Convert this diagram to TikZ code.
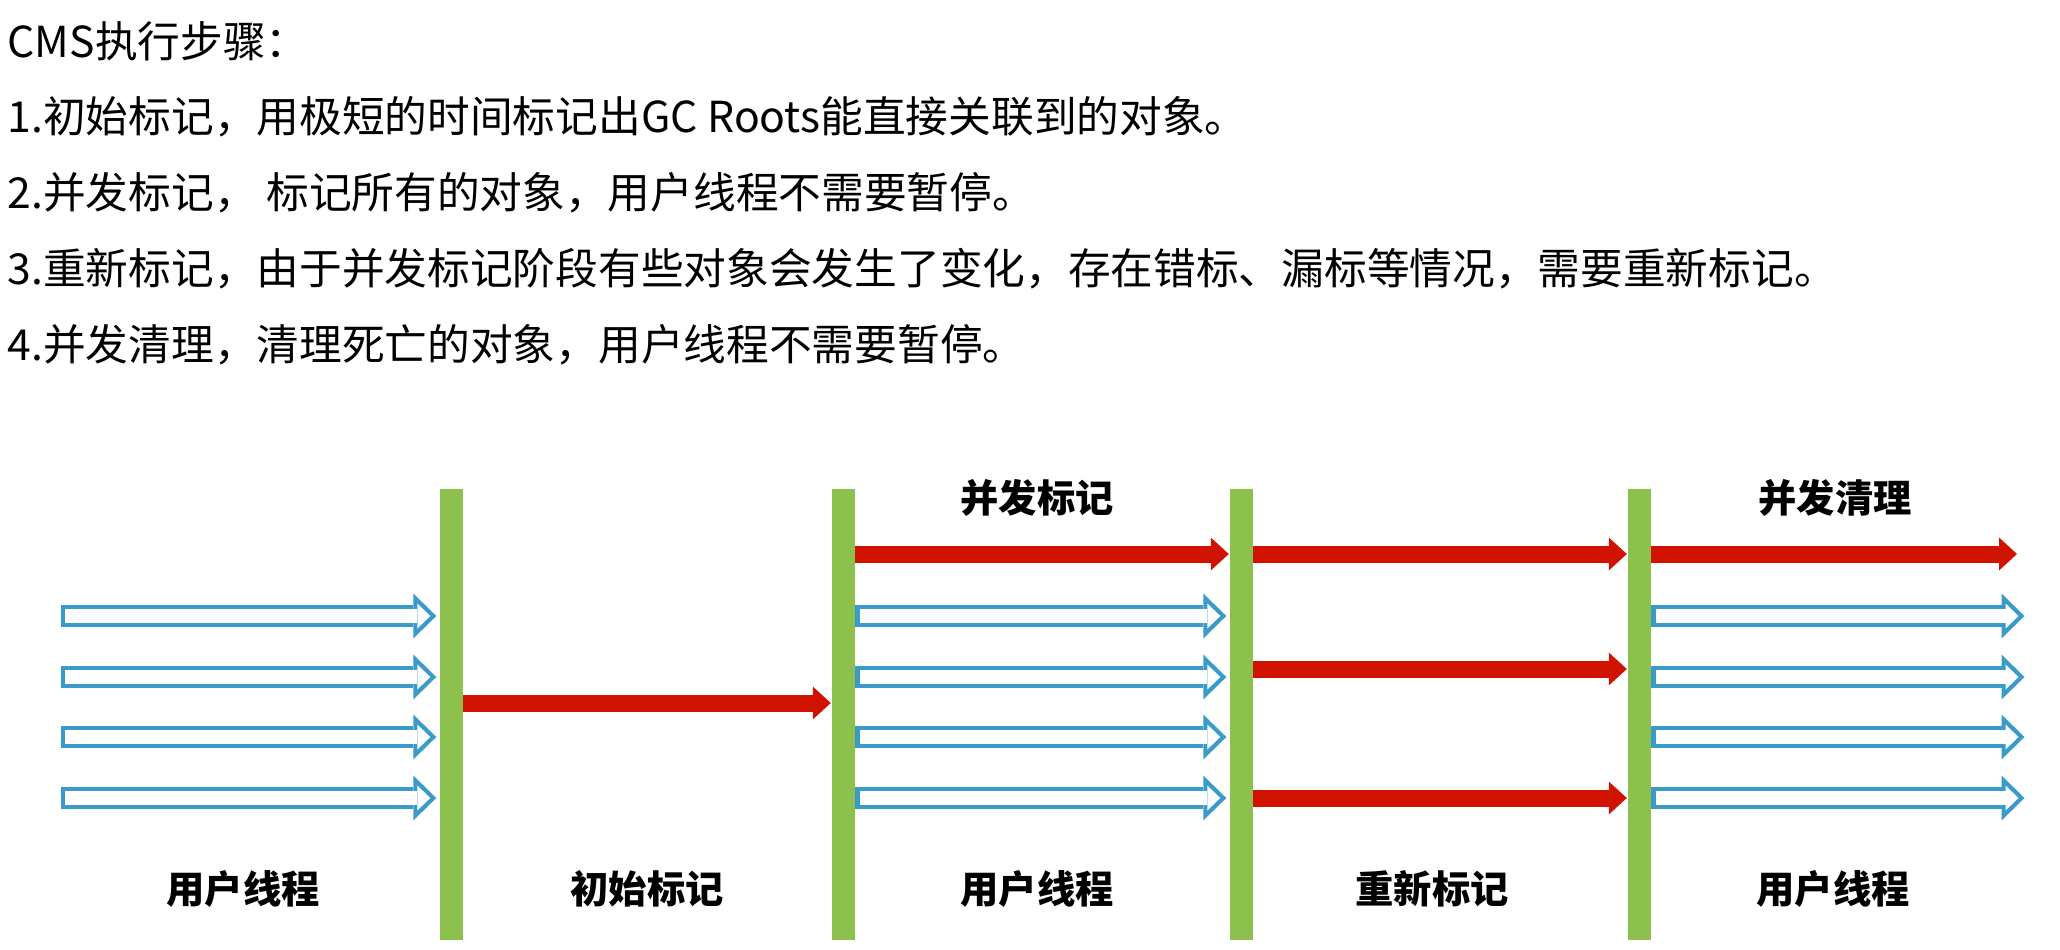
\documentclass[tikz,border=0pt]{standalone}
\usepackage{fontspec}
\setmainfont{Noto Sans CJK SC}
\usetikzlibrary{arrows.meta,positioning,calc}
\definecolor{barg}{RGB}{141,193,78}
\definecolor{threadblue}{RGB}{58,155,202}
\definecolor{flowred}{RGB}{208,18,0}
\tikzset{
  phasebar/.style={fill=barg, minimum width=0.23cm, minimum height=4.51cm, inner sep=0pt},
  thread/.style={white, line width=1.35mm, shorten <=0.43mm, shorten >=0.85mm,
    -{Triangle[length=1.3mm, width=2.5mm, line width=0pt]},
    preaction={draw=threadblue, line width=2.2mm, shorten <=0pt, shorten >=0.25mm,
      -{Triangle[length=2.3mm, width=4.5mm, line width=0pt]}}},
  gcflow/.style={draw=flowred, line width=1.7mm, -{Triangle[length=1.8mm, width=3.3mm, line width=0pt]}},
  steptext/.style={anchor=west, inner sep=0pt, font=\fontsize{12.15pt}{14pt}\selectfont},
  phaselabel/.style={inner sep=0pt, font=\fontsize{10.9pt}{12pt}\selectfont\bfseries},
}

\begin{document}
\begin{tikzpicture}
  \useasboundingbox (0,0) rectangle (20.60,-9.49);
  % the steps
  \node[steptext] (title) at (0.07,-0.41) {CMS执行步骤：};
  \node[steptext] (st1) at (0.07,-1.17) {1.初始标记，用极短的时间标记出GC Roots能直接关联到的对象。};
  \node[steptext] (st2) at (0.07,-1.93) {2.并发标记， 标记所有的对象，用户线程不需要暂停。};
  \node[steptext] (st3) at (0.07,-2.69) {3.重新标记，由于并发标记阶段有些对象会发生了变化，存在错标、漏标等情况，需要重新标记。};
  \node[steptext] (st4) at (0.07,-3.45) {4.并发清理，清理死亡的对象，用户线程不需要暂停。};

  % stop points
  \node[phasebar] (b1) at (4.51,-7.145) {};
  \node[phasebar] (b2) at (8.43,-7.145) {};
  \node[phasebar] (b3) at (12.41,-7.145) {};
  \node[phasebar] (b4) at (16.39,-7.145) {};
  \coordinate (in) at (0.61,-6.16);
  \coordinate (out) at (20.27,-6.16);
  \coordinate (gout) at (20.17,-5.54);

  % user threads
  \foreach \y [count=\i] in {6.16,6.77,7.37,7.98} {
    \coordinate (t\i) at (0,-\y);
    \draw[thread] (in |- t\i) -- (b1.west |- t\i);
    \draw[thread] (b2.east |- t\i) -- (b3.west |- t\i);
    \draw[thread] (b4.east |- t\i) -- (out |- t\i);
  }

  % gc threads
  \coordinate (g0) at (0,-7.03);
  \coordinate (g1) at (0,-5.54);
  \coordinate (g2) at (0,-6.69);
  \coordinate (g3) at (0,-7.98);
  \draw[gcflow] (b1.east |- g0) -- (b2.west |- g0);
  \draw[gcflow] (b2.east |- g1) -- (b3.west |- g1);
  \foreach \g in {g1,g2,g3}
    \draw[gcflow] (b3.east |- \g) -- (b4.west |- \g);
  \draw[gcflow] (b4.east |- g1) -- (gout);

  % phase names
  \node[phaselabel] (top3) at (10.37,-4.98) {并发标记};
  \node[phaselabel] (top5) at (18.35,-4.98) {并发清理};
  \node[phaselabel] (lab1) at (2.43,-8.89) {用户线程};
  \node[phaselabel] (lab2) at (6.47,-8.89) {初始标记};
  \node[phaselabel] (lab3) at (10.37,-8.89) {用户线程};
  \node[phaselabel] (lab4) at (14.32,-8.89) {重新标记};
  \node[phaselabel] (lab5) at (18.33,-8.89) {用户线程};
\end{tikzpicture}
\end{document}
